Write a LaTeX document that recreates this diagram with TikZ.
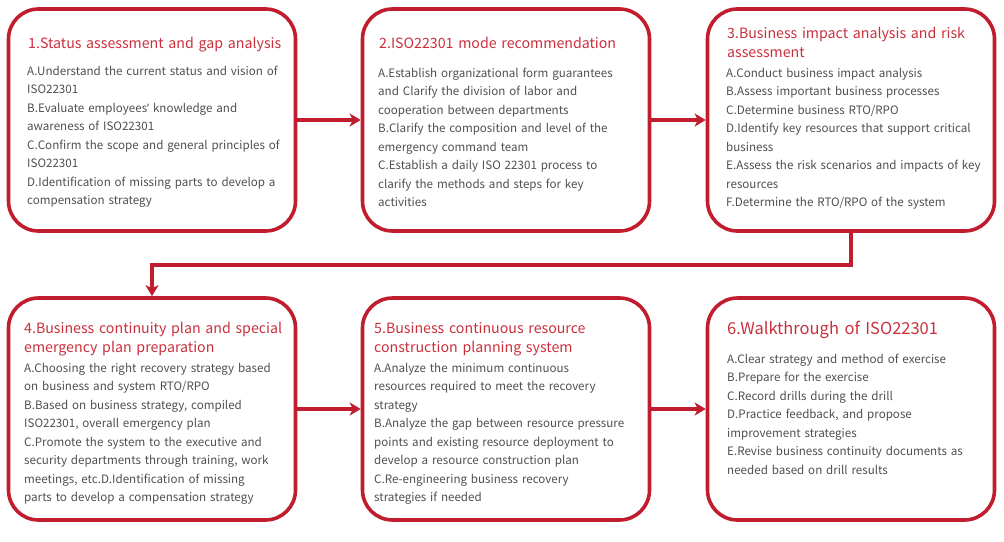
\documentclass[tikz,border=0pt]{standalone}
\usepackage{fontspec}
\setmainfont{Noto Sans CJK SC}
\newfontfamily\quotefont{Noto Sans}
\usetikzlibrary{arrows.meta}
\definecolor{crimson}{RGB}{192,30,46}
\definecolor{titlered}{RGB}{202,48,60}
\definecolor{bodygray}{RGB}{78,78,78}
\tikzset{
  stage/.style={draw=crimson, line width=3.6pt, rounded corners=30pt, minimum width=287pt, minimum height=222pt, inner sep=0pt},
  heading/.style={anchor=base west, inner sep=0pt, align=left, text width=280pt, text=titlered, font=\fontsize{14.2}{19}\selectfont},
  items/.style={anchor=base west, inner sep=0pt, align=left, text width=280pt, text=bodygray, font=\fontsize{11.6}{18.5}\selectfont},
  flow/.style={draw=crimson, line width=3.6pt, -{Stealth[length=11pt,width=13pt,inset=3pt]}}
}
\begin{document}
\begin{tikzpicture}[x=1pt,y=-1pt]
\useasboundingbox (0,0) rectangle (1004,541);
\node[stage] (b1) at (152,120) {};
\node[stage] (b2) at (506,120) {};
\node[stage] (b3) at (851,120) {};
\node[stage] (b4) at (152,409) {};
\node[stage] (b5) at (506,409) {};
\node[stage] (b6) at (851,409) {};
\coordinate (turn) at (500,265);
\node[heading] (t1) at (28,48) {1.Status assessment and gap analysis};
\node[items] (i1) at (27,75) {A.Understand the current status and vision of\\ISO22301\\B.Evaluate employees{\quotefont ’} knowledge and\\awareness of ISO22301\\C.Confirm the scope and general principles of\\ISO22301\\D.Identification of missing parts to develop a\\compensation strategy};
\node[heading] (t2) at (379,48) {2.ISO22301 mode recommendation};
\node[items] (i2) at (378,77) {A.Establish organizational form guarantees\\and Clarify the division of labor and\\cooperation between departments\\B.Clarify the composition and level of the\\emergency command team\\C.Establish a daily ISO 22301 process to\\clarify the methods and steps for key\\activities};
\node[heading] (t3) at (727,38) {3.Business impact analysis and risk\\assessment};
\node[items] (i3) at (726,77) {A.Conduct business impact analysis\\B.Assess important business processes\\C.Determine business RTO/RPO\\D.Identify key resources that support critical\\business\\E.Assess the risk scenarios and impacts of key\\resources\\F.Determine the RTO/RPO of the system};
\node[heading] (t4) at (24,333) {4.Business continuity plan and special\\emergency plan preparation};
\node[items] (i4) at (24,372) {A.Choosing the right recovery strategy based\\on business and system RTO/RPO\\B.Based on business strategy, compiled\\ISO22301, overall emergency plan\\C.Promote the system to the executive and\\security departments through training, work\\meetings, etc.D.Identification of missing\\parts to develop a compensation strategy};
\node[heading] (t5) at (374,333) {5.Business continuous resource\\construction planning system};
\node[items] (i5) at (374,372) {A.Analyze the minimum continuous\\resources required to meet the recovery\\strategy\\B.Analyze the gap between resource pressure\\points and existing resource deployment to\\develop a resource construction plan\\C.Re-engineering business recovery\\strategies if needed};
\node[heading, font=\fontsize{16.5}{19}\selectfont] (t6) at (727,334) {6.Walkthrough of ISO22301};
\node[items] (i6) at (727,363) {A.Clear strategy and method of exercise\\B.Prepare for the exercise\\C.Record drills during the drill\\D.Practice feedback, and propose\\improvement strategies\\E.Revise business continuity documents as\\needed based on drill results};
\draw[flow] (b1) -- (b2);
\draw[flow] (b2) -- (b3);
\draw[flow] (b3.south) |- (turn) -| (b4.north);
\draw[flow] (b4) -- (b5);
\draw[flow] (b5) -- (b6);
\end{tikzpicture}
\end{document}
